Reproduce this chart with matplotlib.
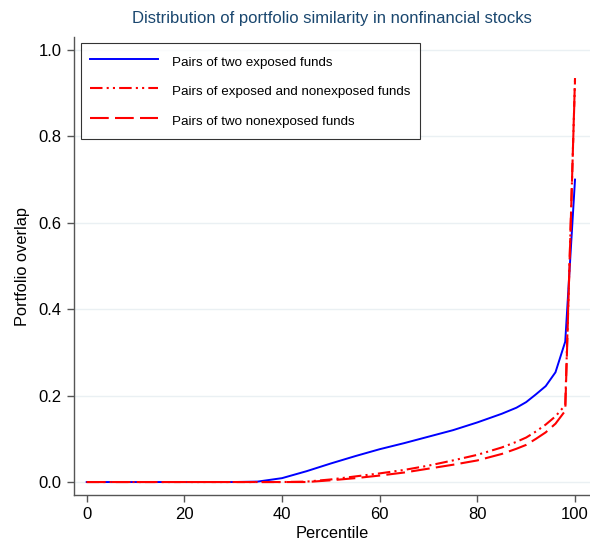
import matplotlib
matplotlib.use("Agg")
import matplotlib.pyplot as plt

plt.rcParams['font.family'] = ['Liberation Sans', 'DejaVu Sans']

pct = [0, 10, 20, 30, 35, 40, 45, 50, 55, 60, 65, 70, 75, 80, 85, 88, 90, 92, 94, 96, 98, 100]
two_exposed = [0, 0, 0, 0, 0.001, 0.009, 0.025, 0.043, 0.060, 0.076, 0.090, 0.105, 0.120, 0.138,
               0.158, 0.172, 0.185, 0.203, 0.222, 0.254, 0.325, 0.700]
exp_nonexp = [0, 0, 0, 0, 0, 0, 0.001, 0.006, 0.013, 0.020, 0.028, 0.038, 0.050, 0.063,
              0.080, 0.093, 0.103, 0.117, 0.133, 0.152, 0.178, 0.930]
two_nonexp = [0, 0, 0, 0, 0, 0, 0, 0.004, 0.009, 0.015, 0.022, 0.031, 0.040, 0.050,
              0.065, 0.077, 0.086, 0.100, 0.115, 0.135, 0.165, 0.935]

labels = ["Pairs of two exposed funds",
          "Pairs of exposed and nonexposed funds",
          "Pairs of two nonexposed funds"]
title = "Distribution of portfolio similarity in nonfinancial stocks"
xticks = [0, 20, 40, 60, 80, 100]
yticks = [0.0, 0.2, 0.4, 0.6, 0.8, 1.0]

W, H = 590, 542
fig = plt.figure(figsize=(W / 100, H / 100), dpi=100)
L, R, T, B = 74, 590, 37, 495
ax = fig.add_axes([L / W, 1 - B / H, (R - L) / W, (B - T) / H])

ax.plot(pct, two_exposed, color='#0000ff', lw=1.4, label=labels[0])
ax.plot(pct, exp_nonexp, color='#ff0000', lw=1.5, dashes=(6, 2, 1, 2, 1, 2), label=labels[1])
ax.plot(pct, two_nonexp, color='#ff0000', lw=1.5, dashes=(9, 3), label=labels[2])

ax.set_xlim(-2.6, 103.07)
ax.set_ylim(-0.030, 1.030)
ax.set_xticks(xticks)
ax.set_yticks(yticks)
ax.set_yticklabels([f"{v:.1f}" for v in yticks])
ax.grid(axis='y', color='#eaf0f3', lw=1.0)
ax.set_axisbelow(True)
for s in ['top', 'right']:
    ax.spines[s].set_visible(False)
for s in ['left', 'bottom']:
    ax.spines[s].set_color('#555555')
    ax.spines[s].set_linewidth(1.0)
ax.tick_params(axis='both', direction='out', length=5, width=1.0, color='#555555',
               labelsize=12, labelcolor='black')
ax.tick_params(axis='y', pad=4)
ax.set_xlabel("Percentile", fontsize=11.8, labelpad=3)
ax.set_ylabel("Portfolio overlap", fontsize=11.8, labelpad=6)
fig.text(332 / W, 1 - 18 / H, title, ha='center', va='center', fontsize=12, color='#1a476f')

leg = ax.legend(loc='upper left', bbox_to_anchor=((81 - L) / (R - L), (B - 43) / (B - T)),
                fontsize=9.6, frameon=True, fancybox=False, handlelength=5.1,
                handleheight=1.8, handletextpad=1.05, labelspacing=0.78,
                borderpad=0.7, borderaxespad=0)
leg.get_frame().set_edgecolor('black')
leg.get_frame().set_linewidth(0.8)

fig.savefig("out.png", dpi=100)
